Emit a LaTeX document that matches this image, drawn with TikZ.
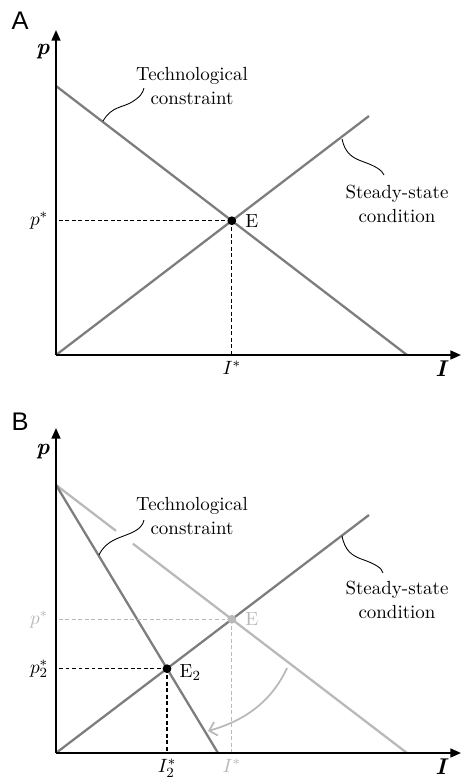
\documentclass[tikz,border=0pt]{standalone}
\usepackage{fontspec}
\newfontfamily\panelfont{Liberation Sans}
\usetikzlibrary{arrows.meta, positioning, calc}
\definecolor{curvegray}{RGB}{125,125,125}
\definecolor{fadedgray}{RGB}{185,185,185}

\begin{document}
\begin{tikzpicture}[
  x=0.02cm, y=-0.02cm,
  axis/.style={-{Triangle[length=6pt, width=5pt]}, line width=1.1pt},
  curveline/.style={draw=curvegray, line width=1.3pt},
  fadedline/.style={draw=fadedgray, line width=1.3pt},
  guide/.style={dash pattern=on 2.2pt off 1.5pt, line width=0.6pt},
  leader/.style={line width=0.5pt},
  dot/.style={circle, fill, inner sep=0pt, minimum size=5pt},
  lbl/.style={font=\fontsize{10.8}{14}\selectfont, align=center},
  axlbl/.style={font=\fontsize{13}{14}\selectfont},
  panel/.style={font=\panelfont\fontsize{14.5}{16}\selectfont}
]
  \useasboundingbox (0,0) rectangle (461,780);

  % panel A
  \node[panel] (labA) at (20,21) {A};
  \coordinate (oA) at (56,355);
  \coordinate (yA) at (56,30);
  \coordinate (xA) at (461,355);
  \coordinate (tA0) at (56,86);
  \coordinate (tA1) at (407,355);
  \coordinate (sA1) at (369,116);
  \coordinate (EAc) at (intersection of tA0--tA1 and oA--sA1);
  \coordinate (pA) at (oA |- EAc);
  \coordinate (iA) at (EAc |- oA);

  \draw[curveline] (tA0) -- (tA1);
  \draw[curveline] (oA) -- (sA1);
  \draw[guide] (EAc) -- (pA);
  \draw[guide] (EAc) -- (iA);
  \draw[axis] (oA) -- (yA);
  \draw[axis] (oA) -- (xA);
  \node[dot] (EA) at (EAc) {};
  \node[lbl, right=1.5pt of EA] (EAlbl) {E};
  \node[lbl, left=1pt of pA] (pstarA) {$p^{*}$};
  \node[lbl, below=0pt of iA] (istarA) {$I^{*}$};
  \node[axlbl] (paxA) at (43,52) {\textbf{\textit{p}}};
  \node[axlbl] (iaxA) at (442,369) {\textbf{\textit{I}}};

  \node[lbl] (techA) at (192,86) {Technological\\constraint};
  \node[lbl] (steadyA) at (397,204) {Steady-state\\condition};
  \coordinate (techhookA) at (103,121);
  \coordinate (steadyhookA) at (342,139);
  \draw[leader] (techhookA) .. controls (112,106) and (122,108) .. (132,102)
    .. controls (140,97) and (143,93) .. (144,88);
  \draw[leader] (steadyhookA) .. controls (345,153) and (352,158) .. (364,162)
    .. controls (375,166) and (382,170) .. (384,175);

  % panel B
  \node[panel] (labB) at (20,422) {B};
  \coordinate (oB) at (56,753);
  \coordinate (yB) at (56,428);
  \coordinate (xB) at (461,753);
  \coordinate (tB0) at (56,485);
  \coordinate (tB1) at (407,753);
  \coordinate (tB2) at (218,753);
  \coordinate (sB1) at (369,515);
  \coordinate (EBc) at (intersection of tB0--tB1 and oB--sB1);
  \coordinate (E2Bc) at (intersection of tB0--tB2 and oB--sB1);
  \coordinate (pB) at (oB |- EBc);
  \coordinate (iB) at (EBc |- oB);
  \coordinate (p2B) at (oB |- E2Bc);
  \coordinate (i2B) at (E2Bc |- oB);
  \coordinate (gapB0) at ($(tB0)!0.171!(tB1)$);
  \coordinate (gapB1) at ($(tB0)!0.219!(tB1)$);

  \draw[fadedline] (tB0) -- (gapB0);
  \draw[fadedline] (gapB1) -- (tB1);
  \draw[curveline] (tB0) -- (tB2);
  \draw[curveline] (oB) -- (sB1);
  \draw[guide, fadedgray] (EBc) -- (pB);
  \draw[guide, fadedgray] (EBc) -- (iB);
  \draw[guide] (E2Bc) -- (p2B);
  \draw[guide] (E2Bc) -- (i2B);
  \draw[axis] (oB) -- (yB);
  \draw[axis] (oB) -- (xB);
  \node[dot, fill=fadedgray] (EB) at (EBc) {};
  \node[dot] (E2B) at (E2Bc) {};
  \node[lbl, text=fadedgray, right=1.5pt of EB] (EBlbl) {E};
  \node[lbl, right=1pt of E2B, yshift=-2pt] (E2Blbl) {E$_2$};
  \node[lbl, text=fadedgray, left=1pt of pB] (pstarB) {$p^{*}$};
  \node[lbl, left=1pt of p2B] (p2starB) {$p_2^{*}$};
  \node[lbl, text=fadedgray, below=0pt of iB] (istarB) {$I^{*}$};
  \node[lbl, below=0pt of i2B] (i2starB) {$I_2^{*}$};
  \node[axlbl] (paxB) at (43,452) {\textbf{\textit{p}}};
  \node[axlbl] (iaxB) at (442,767) {\textbf{\textit{I}}};

  \coordinate (shiftS) at (287,668);
  \coordinate (shiftE) at (208,731);
  \draw[fadedgray, line width=1pt, -{Straight Barb[length=4pt, width=8pt]}]
    (shiftS) .. controls (270,705) and (240,722) .. (shiftE);

  \node[lbl] (techB) at (192,516) {Technological\\constraint};
  \node[lbl] (steadyB) at (397,600) {Steady-state\\condition};
  \coordinate (techhookB) at (99,555);
  \coordinate (steadyhookB) at (342,536);
  \draw[leader] (techhookB) .. controls (106,540) and (120,538) .. (131,533)
    .. controls (140,529) and (143,525) .. (144,520);
  \draw[leader] (steadyhookB) .. controls (345,551) and (352,556) .. (364,560)
    .. controls (375,564) and (382,568) .. (383,573);
\end{tikzpicture}
\end{document}
